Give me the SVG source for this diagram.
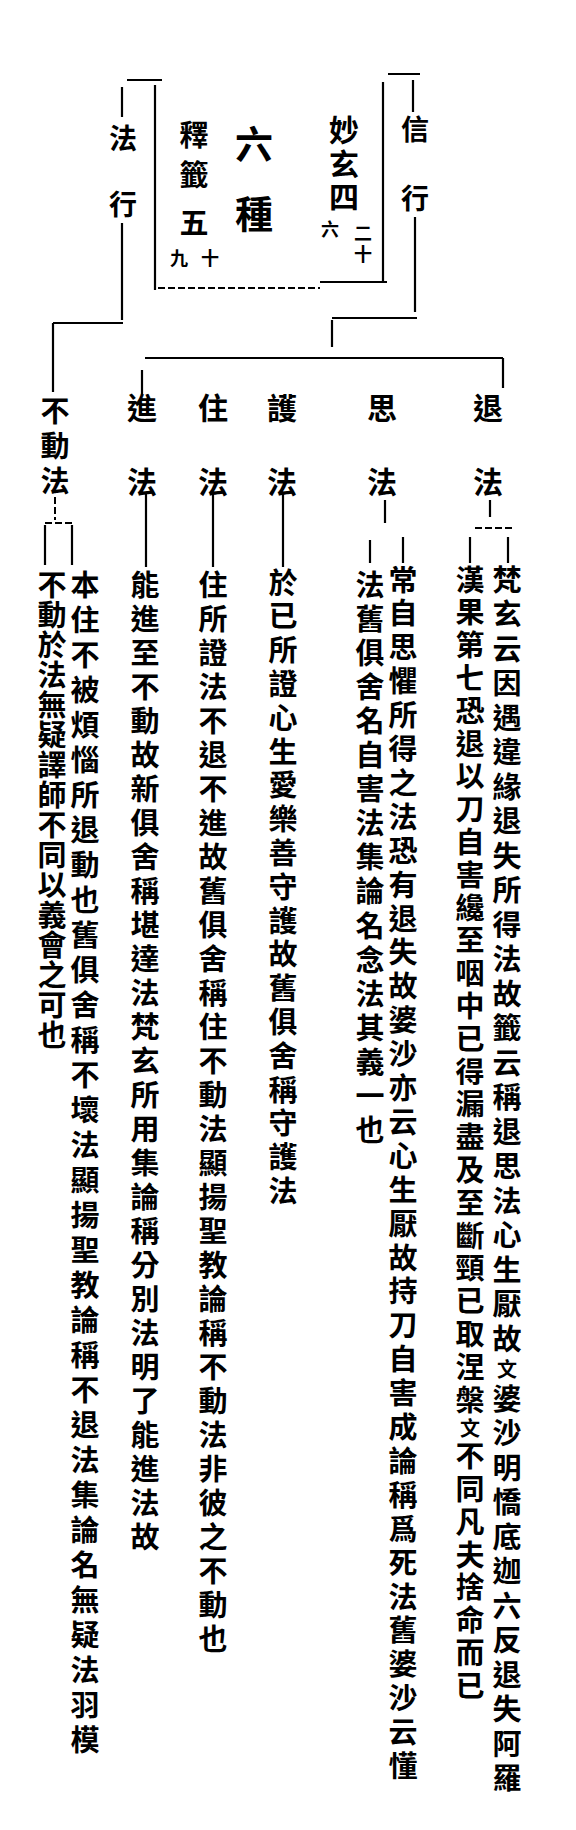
<svg xmlns="http://www.w3.org/2000/svg" width="576" height="1830" viewBox="0 0 576 1830">
<style>
.ln{stroke:#000;stroke-width:2.2;fill:none;stroke-linecap:butt}
.dl{stroke:#000;stroke-width:2;fill:none;stroke-dasharray:7 3}
.c{font-family:"Noto Sans CJK TC","Noto Sans CJK SC",sans-serif;font-weight:700;fill:#000;text-anchor:middle;dominant-baseline:central}
.h{font-size:30px}
.v{font-family:"Noto Sans CJK TC","Noto Sans CJK SC",sans-serif;font-weight:700;fill:#000;font-size:29px;writing-mode:vertical-rl}
</style>
<rect width="576" height="1830" fill="#fff"/>
<g id="connectors">
<path class="ln" d="M388,74 H420 M413,80 V112 M415,217 V312"/>
<path class="ln" d="M383,82 V282 M320,282 H387 M155,85 V290 M127,80 H162"/>
<path class="dl" d="M158,288 H320"/>
<path class="ln" d="M122,87 V117 M122,223 V320 M53,323 H123 M53,323 V392"/>
<path class="ln" d="M332,318 H417 M332,320 V347 M145,358 H503 M503,358 V388 M142,370 V395"/>
<path class="ln" d="M490,500 V517 M470,537 V563 M508,537 V563"/>
<path class="dl" d="M475,528 H513"/>
<path class="ln" d="M385,500 V523 M370,540 V563 M403,537 V563"/>
<path class="ln" d="M283,493 V567 M213,493 V567 M146,493 V567"/>
<path class="dl" d="M55,497 V520 M45,523 H72"/>
<path class="ln" d="M45,525 V565 M72,525 V565"/>
</g>
<g id="node-xinxing">
<text class="c" x="415" y="128" style="font-size:28px">信</text>
<text class="c" x="415" y="197" style="font-size:28px">行</text>
</g>
<g id="node-faxing">
<text class="c" x="123" y="137" style="font-size:28px">法</text>
<text class="c" x="123" y="203" style="font-size:28px">行</text>
</g>
<g id="node-liuzhong">
<text class="v" x="344" y="115" style="font-size:30px;letter-spacing:3.5px">妙玄四</text>
<text class="v" x="363" y="224" style="font-size:18px;letter-spacing:3px">二十</text>
<text class="v" x="330" y="220" style="font-size:18px">六</text>
<text class="v" x="254" y="125" style="font-size:38px;letter-spacing:32px">六種</text>
<text class="v" x="194" y="120" style="font-size:29px;letter-spacing:11px">釋籤</text>
<text class="c" x="194" y="221" style="font-size:29px">五</text>
<text class="v" x="210" y="249" style="font-size:18px">十</text>
<text class="v" x="179" y="249" style="font-size:18px">九</text>
</g>
<g id="node-tuifa">
<text class="v" x="488" y="393" style="font-size:30px;letter-spacing:44px">退法</text>
<text class="v" x="507" y="565" style="letter-spacing:5.5px">梵玄云因遇違緣退失所得法故籤云稱退思法心生厭故<tspan style="font-size:20px">文</tspan>婆沙明憍底迦六反退失阿羅</text>
<text class="v" x="470" y="565" style="letter-spacing:3.8px">漢果第七恐退以刀自害纔至咽中已得漏盡及至斷頸已取涅槃<tspan style="font-size:20px">文</tspan>不同凡夫捨命而已</text>
</g>
<g id="node-sifa">
<text class="v" x="382" y="393" style="font-size:30px;letter-spacing:44px">思法</text>
<text class="v" x="403" y="565" style="letter-spacing:4.9px">常自思懼所得之法恐有退失故婆沙亦云心生厭故持刀自害成論稱爲死法舊婆沙云懂</text>
<text class="v" x="370" y="570" style="letter-spacing:5.1px">法舊俱舍名自害法集論名念法其義一也</text>
</g>
<g id="node-hufa">
<text class="v" x="282" y="393" style="font-size:30px;letter-spacing:44px">護法</text>
<text class="v" x="283" y="568" style="letter-spacing:4.8px">於已所證心生愛樂善守護故舊俱舍稱守護法</text>
</g>
<g id="node-zhufa">
<text class="v" x="213" y="393" style="font-size:30px;letter-spacing:44px">住法</text>
<text class="v" x="213" y="570" style="letter-spacing:5px">住所證法不退不進故舊俱舍稱住不動法顯揚聖教論稱不動法非彼之不動也</text>
</g>
<g id="node-jinfa">
<text class="v" x="142" y="393" style="font-size:30px;letter-spacing:44px">進法</text>
<text class="v" x="145" y="570" style="letter-spacing:5px">能進至不動故新俱舍稱堪達法梵玄所用集論稱分別法明了能進法故</text>
</g>
<g id="node-budongfa">
<text class="v" x="55" y="396" style="font-size:29px;letter-spacing:6px">不動法</text>
<text class="v" x="85" y="570" style="letter-spacing:6px">本住不被煩惱所退動也舊俱舍稱不壞法顯揚聖教論稱不退法集論名無疑法羽模</text>
<text class="v" x="52" y="570" style="letter-spacing:1px">不動於法無疑譯師不同以義會之可也</text>
</g>
</svg>
